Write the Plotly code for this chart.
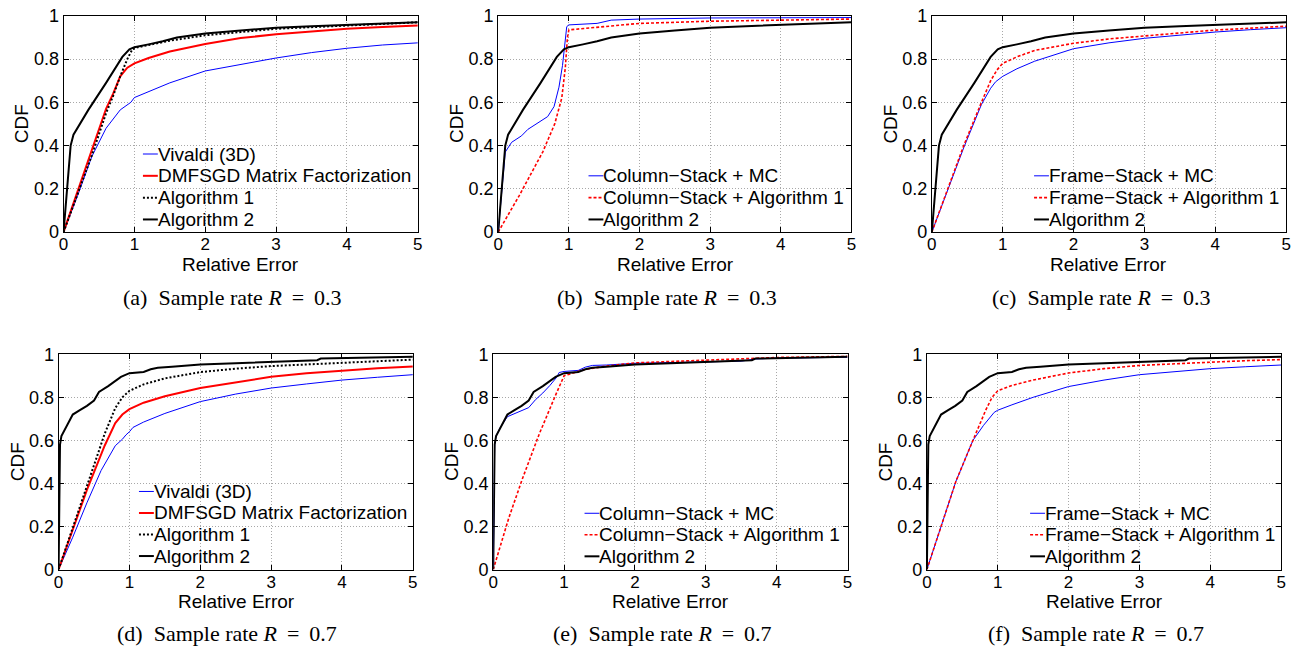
import plotly.graph_objects as go

# ---------------- data ----------------
X_TICKS = [0, 1, 2, 3, 4, 5]
Y_TICKS = [0, 0.2, 0.4, 0.6, 0.8, 1]
Y_TICK_LABELS = ["0", "0.2", "0.4", "0.6", "0.8", "1"]

# Algorithm 2, sample rate 0.3 (panels a, b, c)
RE_ALG2_R03 = [0, 0.03, 0.07, 0.1, 0.14, 0.35, 0.6, 0.83, 0.93, 1.0, 1.2, 1.4, 1.6, 2.0, 2.5, 3.0, 3.5, 4.0, 4.5, 5.0]
CDF_ALG2_R03 = [0, 0.12, 0.3, 0.4, 0.45, 0.565, 0.69, 0.81, 0.845, 0.855, 0.868, 0.882, 0.9, 0.918, 0.932, 0.945, 0.952, 0.958, 0.964, 0.97]

# Algorithm 2, sample rate 0.7 (panels d, e, f)
RE_ALG2_R07 = [0, 0.01, 0.02, 0.04, 0.1, 0.2, 0.3, 0.4, 0.5, 0.57, 0.7, 0.8, 0.88, 1.0, 1.2, 1.3, 1.4, 1.6, 2.0, 2.5, 3.0, 3.5, 3.65, 3.7, 4.0, 4.5, 5.0]
CDF_ALG2_R07 = [0, 0.3, 0.58, 0.62, 0.66, 0.72, 0.74, 0.76, 0.785, 0.825, 0.852, 0.875, 0.895, 0.912, 0.918, 0.93, 0.937, 0.942, 0.952, 0.958, 0.964, 0.967, 0.972, 0.98, 0.982, 0.985, 0.988]

# (a) R = 0.3
RE_VIV_A = [0, 0.2, 0.4, 0.6, 0.8, 0.95, 1.0, 1.2, 1.5, 2.0, 2.5, 3.0, 3.5, 4.0, 4.5, 5.0]
CDF_VIV_A = [0, 0.17, 0.35, 0.48, 0.565, 0.6, 0.622, 0.65, 0.69, 0.745, 0.775, 0.805, 0.83, 0.85, 0.865, 0.875]
RE_DMF_A = [0, 0.2, 0.4, 0.6, 0.7, 0.8, 0.9, 1.0, 1.2, 1.5, 2.0, 2.5, 3.0, 3.5, 4.0, 4.5, 5.0]
CDF_DMF_A = [0, 0.19, 0.38, 0.57, 0.64, 0.72, 0.76, 0.78, 0.805, 0.835, 0.87, 0.897, 0.915, 0.928, 0.94, 0.948, 0.955]
RE_ALG1_A = [0, 0.2, 0.4, 0.6, 0.7, 0.8, 0.9, 0.97, 1.05, 1.5, 2.0, 2.5, 3.0, 4.0, 5.0]
CDF_ALG1_A = [0, 0.175, 0.355, 0.55, 0.63, 0.72, 0.8, 0.845, 0.855, 0.885, 0.91, 0.925, 0.94, 0.955, 0.97]

# (b) R = 0.3
RE_CSMC_B = [0, 0.05, 0.1, 0.19, 0.33, 0.42, 0.56, 0.7, 0.79, 0.86, 0.91, 0.94, 0.97, 1.0, 1.4, 1.6, 2.0, 3.0, 5.0]
CDF_CSMC_B = [0, 0.19, 0.37, 0.415, 0.445, 0.475, 0.505, 0.534, 0.58, 0.67, 0.77, 0.85, 0.95, 0.958, 0.965, 0.98, 0.985, 0.99, 0.992]
RE_CSA1_B = [0, 0.3, 0.63, 0.8, 0.9, 0.95, 0.98, 1.0, 1.5, 2.0, 3.0, 4.0, 5.0]
CDF_CSA1_B = [0, 0.17, 0.37, 0.5, 0.62, 0.76, 0.9, 0.935, 0.95, 0.965, 0.975, 0.98, 0.985]

# (c) R = 0.3
RE_FSMC_C = [0, 0.2, 0.45, 0.7, 0.83, 0.9, 1.0, 1.2, 1.45, 2.0, 2.5, 3.0, 3.5, 4.0, 4.5, 5.0]
CDF_FSMC_C = [0, 0.17, 0.39, 0.59, 0.665, 0.695, 0.72, 0.755, 0.79, 0.848, 0.875, 0.896, 0.912, 0.925, 0.936, 0.945]
RE_FSA1_C = [0, 0.2, 0.45, 0.7, 0.83, 0.92, 1.0, 1.2, 1.45, 2.0, 2.5, 3.0, 3.5, 4.0, 4.5, 5.0]
CDF_FSA1_C = [0, 0.18, 0.4, 0.6, 0.7, 0.75, 0.78, 0.81, 0.84, 0.873, 0.893, 0.907, 0.922, 0.934, 0.943, 0.952]

# (d) R = 0.7
RE_VIV_D = [0, 0.2, 0.4, 0.6, 0.8, 0.9, 0.95, 1.0, 1.05, 1.2, 1.5, 2.0, 2.5, 3.0, 3.5, 4.0, 4.5, 5.0]
CDF_VIV_D = [0, 0.15, 0.31, 0.46, 0.575, 0.605, 0.625, 0.64, 0.66, 0.685, 0.725, 0.78, 0.815, 0.843, 0.862, 0.88, 0.893, 0.905]
RE_DMF_D = [0, 0.4, 0.65, 0.8, 0.9, 1.0, 1.2, 1.5, 2.0, 2.5, 3.0, 3.5, 4.0, 4.5, 5.0]
CDF_DMF_D = [0, 0.37, 0.575, 0.68, 0.72, 0.745, 0.775, 0.805, 0.843, 0.87, 0.895, 0.912, 0.925, 0.935, 0.943]
RE_ALG1_D = [0, 0.4, 0.65, 0.8, 0.9, 1.0, 1.2, 1.5, 2.0, 2.5, 3.0, 4.0, 5.0]
CDF_ALG1_D = [0, 0.385, 0.63, 0.75, 0.8, 0.83, 0.86, 0.888, 0.917, 0.933, 0.945, 0.96, 0.975]

# (e) R = 0.7
RE_CSMC_E = [0, 0.01, 0.02, 0.04, 0.1, 0.2, 0.3, 0.5, 0.6, 0.7, 0.8, 0.9, 0.93, 1.0, 1.2, 1.3, 1.4, 1.6, 2.0, 2.5, 3.0, 3.5, 3.7, 4.0, 5.0]
CDF_CSMC_E = [0, 0.3, 0.58, 0.62, 0.66, 0.71, 0.725, 0.752, 0.79, 0.82, 0.855, 0.895, 0.915, 0.92, 0.925, 0.94, 0.948, 0.95, 0.958, 0.962, 0.965, 0.968, 0.978, 0.982, 0.986]
RE_CSA1_E = [0, 0.22, 0.41, 0.65, 0.88, 1.0, 1.3, 1.6, 2.0, 2.5, 3.0, 4.0, 5.0]
CDF_CSA1_E = [0, 0.24, 0.42, 0.63, 0.81, 0.9, 0.93, 0.945, 0.96, 0.967, 0.972, 0.985, 0.99]

# (f) R = 0.7
RE_FSMC_F = [0, 0.2, 0.41, 0.65, 0.8, 0.95, 1.0, 1.2, 1.5, 2.0, 2.5, 3.0, 3.5, 4.0, 4.5, 5.0]
CDF_FSMC_F = [0, 0.2, 0.41, 0.6, 0.67, 0.73, 0.74, 0.765, 0.8, 0.85, 0.88, 0.905, 0.92, 0.933, 0.942, 0.95]
RE_FSA1_F = [0, 0.2, 0.41, 0.65, 0.83, 0.92, 1.0, 1.2, 1.5, 2.0, 2.5, 3.0, 3.5, 4.0, 4.5, 5.0]
CDF_FSA1_F = [0, 0.2, 0.41, 0.6, 0.74, 0.8, 0.83, 0.855, 0.88, 0.913, 0.933, 0.948, 0.957, 0.963, 0.97, 0.975]

CAPTIONS = ["(a)", "(b)", "(c)", "(d)", "(e)", "(f)"]
RATES = ["0.3", "0.3", "0.3", "0.7", "0.7", "0.7"]

# ---------------- styles ----------------
BLUE = dict(color="#0000ff", width=1)
RED = dict(color="#ff0000", width=2)
RED_DASH = dict(color="#ff0000", width=1.6, dash="3px,2px")
BLACK = dict(color="#000000", width=2)
BLACK_DOT = dict(color="#000000", width=2, dash="2px,2px")

series = [
    [(RE_VIV_A, CDF_VIV_A, "Vivaldi (3D)", BLUE),
     (RE_DMF_A, CDF_DMF_A, "DMFSGD Matrix Factorization", RED),
     (RE_ALG1_A, CDF_ALG1_A, "Algorithm 1", BLACK_DOT),
     (RE_ALG2_R03, CDF_ALG2_R03, "Algorithm 2", BLACK)],
    [(RE_CSMC_B, CDF_CSMC_B, "Column\u2212Stack + MC", BLUE),
     (RE_CSA1_B, CDF_CSA1_B, "Column\u2212Stack + Algorithm 1", RED_DASH),
     (RE_ALG2_R03, CDF_ALG2_R03, "Algorithm 2", BLACK)],
    [(RE_FSMC_C, CDF_FSMC_C, "Frame\u2212Stack + MC", BLUE),
     (RE_FSA1_C, CDF_FSA1_C, "Frame\u2212Stack + Algorithm 1", RED_DASH),
     (RE_ALG2_R03, CDF_ALG2_R03, "Algorithm 2", BLACK)],
    [(RE_VIV_D, CDF_VIV_D, "Vivaldi (3D)", BLUE),
     (RE_DMF_D, CDF_DMF_D, "DMFSGD Matrix Factorization", RED),
     (RE_ALG1_D, CDF_ALG1_D, "Algorithm 1", BLACK_DOT),
     (RE_ALG2_R07, CDF_ALG2_R07, "Algorithm 2", BLACK)],
    [(RE_CSMC_E, CDF_CSMC_E, "Column\u2212Stack + MC", BLUE),
     (RE_CSA1_E, CDF_CSA1_E, "Column\u2212Stack + Algorithm 1", RED_DASH),
     (RE_ALG2_R07, CDF_ALG2_R07, "Algorithm 2", BLACK)],
    [(RE_FSMC_F, CDF_FSMC_F, "Frame\u2212Stack + MC", BLUE),
     (RE_FSA1_F, CDF_FSA1_F, "Frame\u2212Stack + Algorithm 1", RED_DASH),
     (RE_ALG2_R07, CDF_ALG2_R07, "Algorithm 2", BLACK)],
]

# ---------------- layout geometry (pixels) ----------------
W, H = 1307, 660
def px(x):
    return x / W
def py(y):
    return 1 - y / H

# plot boxes: left, right, top, bottom
BOXES = [(59, 416, 6, 229), (497, 853, 6, 229), (934, 1291, 6, 229),
         (54, 411, 355, 577), (492, 849, 355, 577), (929, 1286, 355, 577)]
# legend: sample start, text start, first row y, row spacing
LEGENDS = [(139, 155, 148.5, 22.5), (588, 604, 171, 22.5), (1037, 1053, 171, 22.5),
           (135, 151, 496.5, 22.2), (584, 600, 519, 22.2), (1033, 1049, 519, 22.2)]
YLABEL_X = [17.5, 455.5, 892.5, 12.5, 450.5, 887.5]
XLABEL_X = [237.5, 675.5, 1112.5, 233, 671, 1108]
CAPTION_X = [229, 667, 1105, 224, 662.5, 1099]

SANS = "Liberation Sans, Arial, Helvetica, sans-serif"
SERIF = "Liberation Serif, Times New Roman, serif"

fig = go.Figure()
annotations = []
shapes = []

for i, panel in enumerate(series):
    sfx = "" if i == 0 else str(i + 1)
    xa, ya = "x" + sfx, "y" + sfx
    for (xs, ys, name, st) in panel:
        fig.add_trace(go.Scatter(x=xs, y=ys, mode="lines", name=name, line=st,
                                 xaxis=xa, yaxis=ya, showlegend=False))
    l, r, t, b = BOXES[i]
    axis_common = dict(showline=True, linecolor="black", linewidth=1, mirror="ticks",
                       ticks="inside", ticklen=5, tickcolor="black", tickwidth=1,
                       showgrid=True, gridcolor="#a8a8a8", gridwidth=1, griddash="1px,2px",
                       zeroline=False, tickfont=dict(family=SANS, size=18, color="black"))
    fig.layout["xaxis" + sfx] = dict(axis_common, domain=[px(l), px(r)], range=[0, 5],
                                     tickvals=X_TICKS, anchor=ya, ticklabelstandoff=-3,
                                     tickfont=dict(family=SANS, size=17, color="black"))
    fig.layout["yaxis" + sfx] = dict(axis_common, domain=[py(b), py(t)], range=[0, 1],
                                     tickvals=Y_TICKS, ticktext=Y_TICK_LABELS, anchor=xa)

    # axis titles
    annotations.append(dict(text="CDF", x=px(YLABEL_X[i]), y=py((t + b) / 2), xref="paper", yref="paper",
                            textangle=-90, showarrow=False, xanchor="center", yanchor="middle",
                            font=dict(family=SANS, size=19, color="black")))
    annotations.append(dict(text="Relative Error", x=px(XLABEL_X[i]), y=py(b + 33), xref="paper", yref="paper",
                            showarrow=False, xanchor="center", yanchor="middle",
                            font=dict(family=SANS, size=19, color="black")))
    # caption
    cy = 296 if i < 3 else 643
    annotations.append(dict(text=CAPTIONS[i] + "\u00a0\u00a0Sample rate <i>R</i>\u2009 = \u20090." + RATES[i][2:],
                            x=px(CAPTION_X[i]), y=py(cy), xref="paper", yref="paper",
                            showarrow=False, xanchor="center", yanchor="middle",
                            font=dict(family=SERIF, size=22, color="black")))

    # legend (MATLAB style: short sample line + text, no box)
    s0, tx, y0, dy = LEGENDS[i]
    for k, (xs, ys, name, st) in enumerate(panel):
        yy = y0 + k * dy
        shapes.append(dict(type="line", xref="paper", yref="paper",
                           x0=px(s0), x1=px(s0 + 15), y0=py(yy), y1=py(yy),
                           line=dict(color=st["color"], width=st["width"], dash=st.get("dash", "solid"))))
        annotations.append(dict(text=name, x=px(tx - 3), y=py(yy), xref="paper", yref="paper",
                                showarrow=False, xanchor="left", yanchor="middle",
                                font=dict(family=SANS, size=19, color="black")))

fig.update_layout(width=W, height=H, autosize=False,
                  margin=dict(l=0, r=0, t=0, b=0),
                  paper_bgcolor="white", plot_bgcolor="white",
                  annotations=annotations, shapes=shapes, showlegend=False)

fig.write_html("out.html")
